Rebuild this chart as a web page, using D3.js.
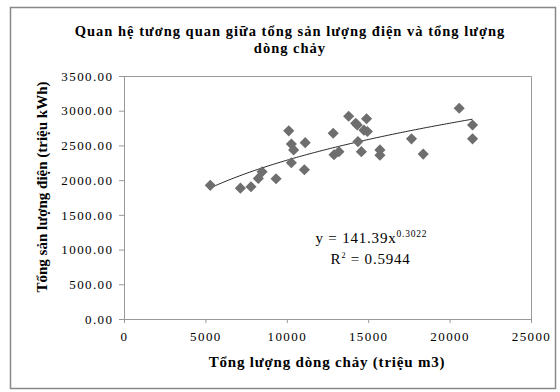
<!DOCTYPE html>
<html>
<head>
<meta charset="utf-8">
<script src="https://cdn.jsdelivr.net/npm/d3@7"></script>
<style>
  body { margin: 0; background: #fff; }
  text { font-family: "Liberation Serif", "Times New Roman", serif; fill: #000; }
</style>
</head>
<body>
<svg id="chart" width="560" height="392"></svg>
<script>
// flow (million m3) vs electricity output (million kWh)
var flow = [5300, 7150, 7800, 8250, 8480, 9340, 10120, 10280, 10420, 10280, 11130, 11080,
  12850, 12900, 13200, 13800, 14230, 14330, 14900, 14740, 14950, 14370, 14580, 15720,
  15720, 17660, 18380, 20590, 21410, 21410];
var power = [1925, 1885, 1905, 2025, 2120, 2020, 2710, 2520, 2435, 2250, 2540, 2150,
  2675, 2365, 2410, 2920, 2820, 2795, 2885, 2720, 2700, 2555, 2410, 2435,
  2360, 2595, 2375, 3035, 2795, 2595];

var xTicks = [0, 5000, 10000, 15000, 20000, 25000];
var yTicks = [0, 500, 1000, 1500, 2000, 2500, 3000, 3500];

// power trend shown on the chart: y = a * x^b
var trendA = 141.39, trendB = 0.3022;

var svg = d3.select("#chart");

var margin = {left: 124, right: 29, top: 76, bottom: 73};
var width = 560 - margin.left - margin.right,
    height = 392 - margin.top - margin.bottom;

// outer frame
svg.append("rect")
  .attr("x", 10.5).attr("y", 7.5)
  .attr("width", 545).attr("height", 381)
  .attr("fill", "none").attr("stroke", "#888").attr("stroke-width", 1.5);

svg.append("text")
  .attr("x", 290).attr("y", 36)
  .attr("text-anchor", "middle")
  .attr("font-weight", "bold").attr("font-size", "14.5px").attr("letter-spacing", "1px")
  .text("Quan hệ tương quan giữa tổng sản lượng điện và tổng lượng");
svg.append("text")
  .attr("x", 290).attr("y", 53)
  .attr("text-anchor", "middle")
  .attr("font-weight", "bold").attr("font-size", "14.5px").attr("letter-spacing", "1px")
  .text("dòng chảy");

var g = svg.append("g").attr("transform", "translate(" + margin.left + "," + margin.top + ")");

var x = d3.scaleLinear().domain([0, 25000]).range([0, width]);
var y = d3.scaleLinear().domain([0, 3500]).range([height, 0]);

// plot area border (top & right)
g.append("path")
  .attr("d", "M0,0.5H" + (width + 0.5) + "V" + height)
  .attr("fill", "none").attr("stroke", "#999");

var xAxis = g.append("g")
  .attr("transform", "translate(0," + height + ")")
  .call(d3.axisBottom(x).tickValues(xTicks).tickFormat(d3.format("d")).tickSize(4).tickPadding(9));

var yAxis = g.append("g")
  .call(d3.axisLeft(y).tickValues(yTicks).tickFormat(d3.format(".2f")).tickSize(5).tickPadding(7));

[xAxis, yAxis].forEach(function(a){
  a.select(".domain").attr("stroke", "#999");
  a.selectAll(".tick line").attr("stroke", "#999");
  a.selectAll(".tick text")
    .attr("font-family", "Liberation Serif")
    .attr("font-size", "13px")
    .attr("letter-spacing", "1.4px")
    .attr("fill", "#111");
});
// keep the right-aligned labels flush with the tick despite letter spacing
yAxis.selectAll(".tick text").attr("dx", "1.4px");

// trend line
var xs = d3.range(d3.min(flow), d3.max(flow) + 1, 100);
var line = d3.line()
  .x(function(d){ return x(d); })
  .y(function(d){ return y(trendA * Math.pow(d, trendB)); });
g.append("path")
  .datum(xs)
  .attr("d", line)
  .attr("fill", "none").attr("stroke", "#222").attr("stroke-width", 1);

// diamond markers
var diamond = d3.symbol().type(d3.symbolSquare).size(62);
g.selectAll(".pt")
  .data(flow)
  .enter().append("path")
  .attr("class", "pt")
  .attr("d", diamond)
  .attr("transform", function(d, i){ return "translate(" + x(d) + "," + y(power[i]) + ") rotate(45)"; })
  .attr("fill", "#6e6e6e");

// equation
var eq = g.append("text")
  .attr("x", x(15200)).attr("y", y(1090))
  .attr("text-anchor", "middle").attr("font-size", "15px").attr("letter-spacing", "0.8px");
eq.append("tspan").text("y = " + trendA + "x");
eq.append("tspan").attr("dy", -6).attr("font-size", "9.5px").text(trendB.toFixed(4));
var r2 = g.append("text")
  .attr("x", x(15150)).attr("y", y(790))
  .attr("text-anchor", "middle").attr("font-size", "15px").attr("letter-spacing", "0.8px");
r2.append("tspan").text("R");
r2.append("tspan").attr("dy", -6).attr("font-size", "8px").text("2");
r2.append("tspan").attr("dy", 6).text(" = 0.5944");

// axis titles
svg.append("text")
  .attr("x", 327).attr("y", 367)
  .attr("text-anchor", "middle")
  .attr("font-weight", "bold").attr("font-size", "15px").attr("letter-spacing", "0.8px")
  .text("Tổng lượng dòng chảy (triệu m3)");
svg.append("text")
  .attr("transform", "translate(47,187) rotate(-90)")
  .attr("text-anchor", "middle")
  .attr("font-weight", "bold").attr("font-size", "15px")
  .text("Tổng sản lượng điện (triệu kWh)");
</script>
</body>
</html>
